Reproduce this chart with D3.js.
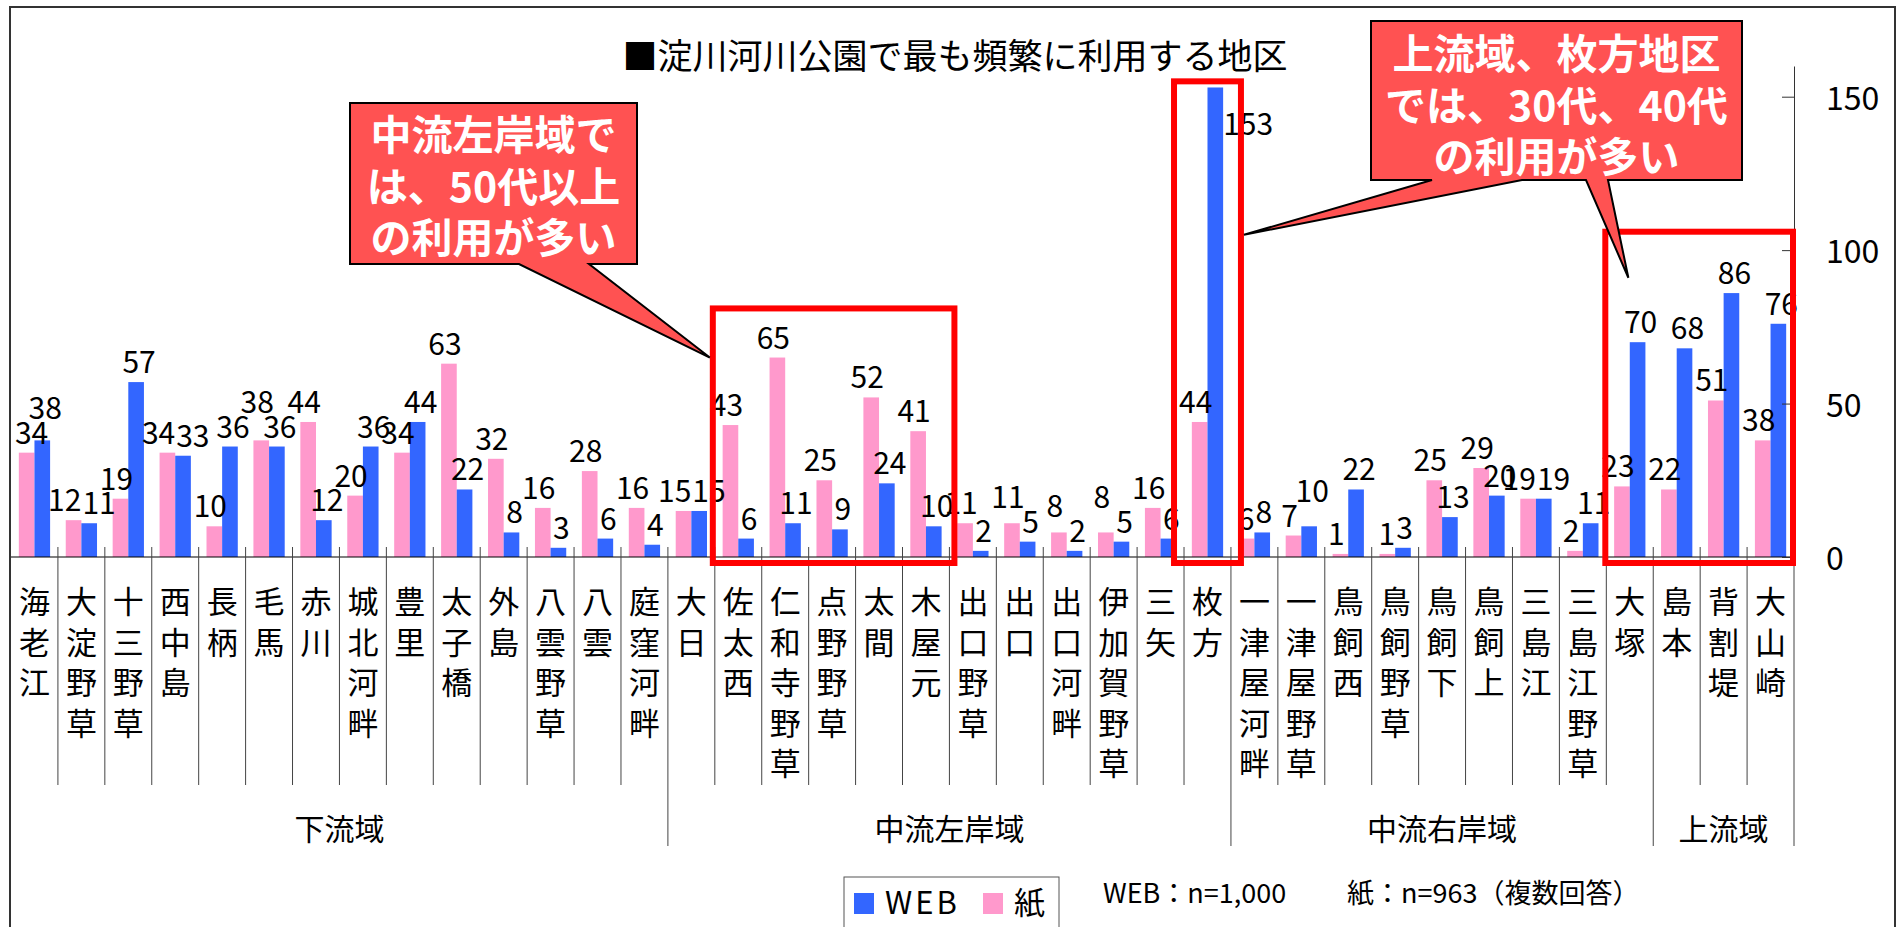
<!DOCTYPE html>
<meta charset="utf-8">
<style>
    body { margin: 0; background: #fff; }
    svg { display: block; font-family: "Noto Sans CJK JP", sans-serif; }
</style>
<body>
<script src="https://cdn.jsdelivr.net/npm/d3@7"></script>
<script>
    var width = 1903,
        height = 927;

    // data
    var categories = ['海老江','大淀野草','十三野草','西中島','長柄','毛馬','赤川','城北河畔','豊里','太子橋','外島','八雲野草','八雲','庭窪河畔',
        '大日','佐太西','仁和寺野草','点野野草','太間','木屋元','出口野草','出口','出口河畔','伊加賀野草','三矢','枚方',
        '一津屋河畔','一津屋野草','鳥飼西','鳥飼野草','鳥飼下','鳥飼上','三島江','三島江野草','大塚',
        '島本','背割堤','大山崎'];
    var groups = ['下流域','中流左岸域','中流右岸域','上流域'];
    var groupSizes = [14, 12, 9, 3];
    var paper = [34,12,19,34,10,38,44,20,34,63,32,16,28,16,
        15,43,65,25,52,41,11,11,8,8,16,44,
        6,7,1,1,25,29,19,2,23,
        22,51,38];
    var web = [38,11,57,33,36,36,12,36,44,22,8,3,6,4,
        15,6,11,9,24,10,2,5,2,5,6,153,
        8,10,22,3,13,20,19,11,70,
        68,86,76];
    var yTicks = [0, 50, 100, 150];
    var seriesNames = ['紙', 'WEB'];
    var seriesColors = ['#ff99cc', '#3366ff'];

    // highlighted ranges (red frames)
    var highlights = [
        { from: '佐太西', to: '木屋元', top: 81, padL: 2, padR: 5 },
        { from: '枚方', to: '枚方', top: 155, padL: 10, padR: 10 },
        { from: '大塚', to: '大山崎', top: 106, padL: 1, padR: -1 }
    ];

    var svg = d3.select('body').append('svg')
        .attr('width', width)
        .attr('height', height);

    // outer frame
    svg.append('rect')
        .attr('x', 10).attr('y', 7)
        .attr('width', 1885).attr('height', 1000)
        .attr('fill', 'none').attr('stroke', '#333').attr('stroke-width', 2);

    var baseY = 557;
    var x = d3.scaleBand().domain(categories).range([11, 1794]).padding(0);
    var bw = x.bandwidth();
    var sub = d3.scaleBand().domain(seriesNames).range([0, bw]).paddingInner(0).paddingOuter(0.5);
    var y = d3.scaleLinear().domain([0, 160]).range([baseY, 66]);
    var color = d3.scaleOrdinal().domain(seriesNames).range(seriesColors);

    var rows = categories.map(function(c, i) {
        return { cat: c, vals: [{ s: '紙', v: paper[i] }, { s: 'WEB', v: web[i] }] };
    });

    // bars
    var cat = svg.append('g').selectAll('g').data(rows).enter().append('g')
        .attr('transform', function(d) { return 'translate(' + x(d.cat) + ',0)'; });
    cat.selectAll('rect').data(function(d) { return d.vals; }).enter().append('rect')
        .attr('x', function(d) { return sub(d.s); })
        .attr('y', function(d) { return y(d.v); })
        .attr('width', sub.bandwidth())
        .attr('height', function(d) { return baseY - y(d.v); })
        .attr('fill', function(d) { return color(d.s); });

    // value labels with a small collision rule
    var labels = [];
    rows.forEach(function(r) {
        var x0 = x(r.cat);
        var p = r.vals[0], w = r.vals[1];
        var pc = x0 + sub('紙') + sub.bandwidth() / 2;
        var wc = x0 + sub('WEB') + sub.bandwidth() / 2;
        var mid = x0 + sub('WEB');
        var lp = { t: p.v, x: pc - 4, y: y(p.v) - 9, a: 'middle' };
        var lw = { t: w.v, x: wc + 3, y: y(w.v) - 9, a: 'middle' };
        if (w.v > 140) {
            lw = { t: w.v, x: mid + sub.bandwidth(), y: y(w.v) + 48, a: 'start' };
        } else if (Math.abs(lp.y - lw.y) < 24) {
            var d = Math.abs(p.v - w.v);
            if (d <= 1 || (d <= 2 && Math.max(p.v, w.v) < 10)) {
                lp.x = mid; lp.a = 'end';
                lw.x = mid + 1; lw.a = 'start';
            } else if (p.v > w.v) {
                lp.y = lw.y - 25;
            } else {
                lw.y = lp.y - 25;
            }
        }
        labels.push(lp, lw);
    });
    // keep labels inside the frame
    labels.forEach(function(l) {
        var half = String(l.t).length * 8.3;
        if (l.a === 'middle' && l.x - half < 15) l.x = 15 + half;
    });
    svg.append('g').selectAll('text').data(labels).enter().append('text')
        .attr('x', function(d) { return d.x; })
        .attr('y', function(d) { return d.y; })
        .attr('text-anchor', function(d) { return d.a; })
        .attr('font-size', 30)
        .attr('fill', '#000')
        .text(function(d) { return d.t; });

    // category axis: baseline, dividers, vertical labels
    var xa = svg.append('g');
    xa.append('line')
        .attr('x1', 11).attr('x2', 1794).attr('y1', baseY).attr('y2', baseY)
        .attr('stroke', '#000').attr('stroke-width', 1.2);

    var groupEdges = [0];
    groupSizes.forEach(function(n, i) { groupEdges.push(groupEdges[i] + n); });
    var dividers = d3.range(1, categories.length + 1);
    xa.selectAll('line.div').data(dividers).enter().append('line')
        .attr('class', 'div')
        .attr('x1', function(i) { return i < categories.length ? x(categories[i]) : x.range()[1]; })
        .attr('x2', function(i) { return i < categories.length ? x(categories[i]) : x.range()[1]; })
        .attr('y1', baseY - 10)
        .attr('y2', function(i) { return groupEdges.indexOf(i) >= 0 ? 846 : 785; })
        .attr('stroke', '#444').attr('stroke-width', 1);

    var catText = xa.selectAll('text.cat').data(categories).enter().append('text')
        .attr('class', 'cat')
        .attr('text-anchor', 'middle')
        .attr('font-size', 31)
        .attr('fill', '#000');
    catText.selectAll('tspan').data(function(c) {
        return c.split('').map(function(ch, j) { return { ch: ch, j: j, c: c }; });
    }).enter().append('tspan')
        .attr('x', function(d) { return x(d.c) + bw / 2; })
        .attr('y', function(d) { return 613 + d.j * 40.5; })
        .text(function(d) { return d.ch; });

    xa.selectAll('text.grp').data(groups).enter().append('text')
        .attr('class', 'grp')
        .attr('text-anchor', 'middle')
        .attr('font-size', 30)
        .attr('x', function(g, i) {
            var a = x(categories[groupEdges[i]]);
            var b = x(categories[groupEdges[i + 1] - 1]) + bw;
            return (a + b) / 2;
        })
        .attr('y', 840)
        .text(function(g) { return g; });

    // value axis on the right
    var ya = svg.append('g')
        .attr('transform', 'translate(' + x.range()[1] + ',0)')
        .call(d3.axisRight(y).tickValues(yTicks).tickSizeInner(-12).tickSizeOuter(0).tickPadding(32));
    ya.select('.domain').attr('stroke', '#333');
    ya.selectAll('.tick line').attr('stroke', '#333');
    ya.selectAll('.tick text')
        .attr('font-size', 32)
        .attr('font-family', '"Noto Sans CJK JP", sans-serif')
        .attr('fill', '#000')
        .attr('dy', '0.4em');

    // red frames
    var boxes = highlights.map(function(h) {
        var x0 = x(h.from) - h.padL;
        var x1 = x(h.to) + bw + h.padR;
        return { x0: x0, x1: x1, y0: y(h.top), y1: baseY + 6 };
    });
    svg.append('g').selectAll('rect').data(boxes).enter().append('rect')
        .attr('x', function(d) { return d.x0; })
        .attr('y', function(d) { return d.y0; })
        .attr('width', function(d) { return d.x1 - d.x0; })
        .attr('height', function(d) { return d.y1 - d.y0; })
        .attr('fill', 'none')
        .attr('stroke', '#ff0000')
        .attr('stroke-width', 6);

    // callouts
    var callouts = [
        { r: [350, 103, 637, 264], lines: ['中流左岸域で', 'は、50代以上', 'の利用が多い'], base: 150,
          wedges: [{ a: 519, b: 589, tip: [boxes[0].x0 - 3, y(65)] }] },
        { r: [1371, 21, 1742, 180], lines: ['上流域、枚方地区', 'では、30代、40代', 'の利用が多い'], base: 69,
          wedges: [{ a: 1586, b: 1608, tip: [x('大塚') + bw * 0.47, y(91)] },
                   { a: 1432, b: 1522, tip: [boxes[1].x1 + 3, y(105)] }] }
    ];
    function calloutPath(c) {
        var r = c.r;
        var p = d3.path();
        p.moveTo(r[0], r[1]);
        p.lineTo(r[2], r[1]);
        p.lineTo(r[2], r[3]);
        c.wedges.forEach(function(w) {
            p.lineTo(w.b, r[3]);
            p.lineTo(w.tip[0], w.tip[1]);
            p.lineTo(w.a, r[3]);
        });
        p.lineTo(r[0], r[3]);
        p.closePath();
        return p.toString();
    }
    var co = svg.append('g').selectAll('g').data(callouts).enter().append('g');
    co.append('path')
        .attr('d', calloutPath)
        .attr('fill', '#ff5252')
        .attr('stroke', '#000')
        .attr('stroke-width', 2)
        .attr('stroke-linejoin', 'miter');
    co.selectAll('text').data(function(c) {
        return c.lines.map(function(t, i) { return { t: t, i: i, c: c }; });
    }).enter().append('text')
        .attr('x', function(d) { return (d.c.r[0] + d.c.r[2]) / 2; })
        .attr('y', function(d) { return d.c.base + d.i * 51.5; })
        .attr('text-anchor', 'middle')
        .attr('font-size', 41)
        .attr('font-weight', 'bold')
        .attr('fill', '#fff')
        .text(function(d) { return d.t; });

    // title
    svg.append('text')
        .attr('x', 955).attr('y', 69)
        .attr('text-anchor', 'middle')
        .attr('font-size', 35)
        .text('■淀川河川公園で最も頻繁に利用する地区');

    // legend
    var lg = svg.append('g');
    lg.append('rect')
        .attr('x', 844).attr('y', 877).attr('width', 215).attr('height', 80)
        .attr('fill', '#fff').attr('stroke', '#555').attr('stroke-width', 1);
    var legendItems = [{ s: 'WEB', x: 854 }, { s: '紙', x: 983 }];
    lg.selectAll('rect.sw').data(legendItems).enter().append('rect')
        .attr('class', 'sw')
        .attr('x', function(d) { return d.x; }).attr('y', 893)
        .attr('width', 20).attr('height', 21)
        .attr('fill', function(d) { return color(d.s); });
    lg.selectAll('text').data(legendItems).enter().append('text')
        .attr('x', function(d) { return d.x + 31; }).attr('y', 914)
        .attr('font-size', 31)
        .attr('letter-spacing', function(d) { return d.s === 'WEB' ? 3 : 0; })
        .text(function(d) { return d.s; });

    svg.append('text')
        .attr('x', 1103).attr('y', 903)
        .attr('font-size', 27)
        .text('WEB：n=1,000');
    svg.append('text')
        .attr('x', 1347).attr('y', 903)
        .attr('font-size', 27)
        .text('紙：n=963（複数回答）');
</script>
</body>
